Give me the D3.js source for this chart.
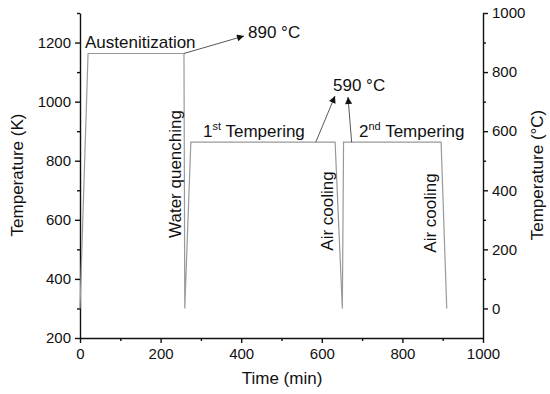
<!DOCTYPE html>
<html>
<head>
<meta charset="utf-8">
<script src="https://cdn.jsdelivr.net/npm/d3@7"></script>
<style>
  body { margin: 0; background: #fff; }
  text { font-family: Arial, "Liberation Sans", sans-serif; fill: #111; }
  .axis path, .axis line { stroke: #111; stroke-width: 1.4px; }
  .axis text { font-size: 15px; font-family: Arial, "Liberation Sans", sans-serif; }
</style>
</head>
<body>
<div id="chart"></div>
<script>
// heat treatment schedule: time (min) vs temperature (K)
var timeMin = [0, 20, 258, 260, 275, 633, 651, 654, 896, 910];
var tempK   = [300, 1163, 1163, 300, 863, 863, 300, 863, 863, 300];

var xTicks  = [0, 200, 400, 600, 800, 1000];
var kTicks  = [200, 400, 600, 800, 1000, 1200];
var cTicks  = [0, 200, 400, 600, 800, 1000];

var width = 550,
    height = 394;

var x = d3.scaleLinear().domain([0, 1000]).range([80, 483]);
var yK = d3.scaleLinear().domain([200, 1300]).range([338, 13]);
var yC = d3.scaleLinear().domain([-100, 1000]).range([338, 13]);
var fmt = d3.format("d");

var svg = d3.select("#chart").append("svg")
    .attr("width", width)
    .attr("height", height);

svg.append("defs").append("marker")
    .attr("id", "head")
    .attr("viewBox", "0 0 10 10")
    .attr("refX", 10)
    .attr("refY", 5)
    .attr("markerUnits", "userSpaceOnUse")
    .attr("markerWidth", 9)
    .attr("markerHeight", 7)
    .attr("orient", "auto")
  .append("path")
    .attr("d", "M0,0 L10,5 L0,10 z")
    .attr("fill", "#111");

// minor ticks first, then the main axes on top
function minor(axis, scale, vals, tf) {
  svg.append("g")
    .attr("class", "axis")
    .attr("transform", tf)
    .call(axis(scale).tickValues(vals).tickSize(3).tickFormat(""))
    .select(".domain").remove();
}
minor(d3.axisBottom, x, d3.range(100, 1000, 200), "translate(0,338)");
minor(d3.axisLeft, yK, d3.range(300, 1301, 200), "translate(80,0)");
minor(d3.axisRight, yC, d3.range(100, 1000, 200), "translate(483,0)");

svg.append("g")
    .attr("class", "axis")
    .attr("transform", "translate(0,338)")
    .call(d3.axisBottom(x).tickValues(xTicks).tickFormat(fmt).tickSize(5).tickSizeOuter(0).tickPadding(5));

svg.append("g")
    .attr("class", "axis")
    .attr("transform", "translate(80,0)")
    .call(d3.axisLeft(yK).tickValues(kTicks).tickFormat(fmt).tickSize(5).tickSizeOuter(0).tickPadding(4));

svg.append("g")
    .attr("class", "axis")
    .attr("transform", "translate(483,0)")
    .call(d3.axisRight(yC).tickValues(cTicks).tickFormat(fmt).tickSize(5).tickSizeOuter(0).tickPadding(4));

// axis titles
svg.append("text")
    .attr("x", 282).attr("y", 384)
    .attr("text-anchor", "middle")
    .style("font-size", "17px")
    .text("Time (min)");

svg.append("text")
    .attr("transform", "translate(23,175) rotate(-90)")
    .attr("text-anchor", "middle")
    .style("font-size", "17px")
    .text("Temperature (K)");

svg.append("text")
    .attr("transform", "translate(543,175) rotate(-90)")
    .attr("text-anchor", "middle")
    .style("font-size", "17px")
    .text("Temperature (°C)");

// the schedule line
var pts = timeMin.map(function(t, i) { return [t, tempK[i]]; });
var line = d3.line()
    .x(function(d) { return x(d[0]); })
    .y(function(d) { return yK(d[1]); });

svg.append("path")
    .datum(pts)
    .attr("d", line)
    .attr("fill", "none")
    .attr("stroke", "#999")
    .attr("stroke-width", 1.2);

// annotations
function label(tx, ty, str, rot) {
  var t = svg.append("text")
    .style("font-size", "17px")
    .attr("transform", "translate(" + tx + "," + ty + ")" + (rot ? " rotate(-90)" : ""));
  if (rot) t.attr("text-anchor", "middle");
  return t.text(str);
}
label(85, 48, "Austenitization");
label(248, 38, "890 °C");
label(333, 91, "590 °C");
label(181, 174, "Water quenching", true);
label(333, 211, "Air cooling", true);
label(436, 213, "Air cooling", true);

var t1 = svg.append("text").attr("x", 203).attr("y", 137).style("font-size", "17px");
t1.append("tspan").text("1");
t1.append("tspan").attr("dy", -7).style("font-size", "11px").text("st");
t1.append("tspan").attr("dy", 7).text(" Tempering");

var t2 = svg.append("text").attr("x", 359).attr("y", 137).style("font-size", "17px");
t2.append("tspan").text("2");
t2.append("tspan").attr("dy", -7).style("font-size", "11px").text("nd");
t2.append("tspan").attr("dy", 7).text(" Tempering");

function arrow(t0, k0, px, py) {
  svg.append("line")
    .attr("x1", x(t0)).attr("y1", yK(k0))
    .attr("x2", px).attr("y2", py)
    .attr("stroke", "#444")
    .attr("stroke-width", 0.9)
    .attr("marker-end", "url(#head)");
}
arrow(258, 1163, 244, 36);
arrow(585, 863, 335, 96);
arrow(674, 863, 348, 97);
</script>
</body>
</html>
